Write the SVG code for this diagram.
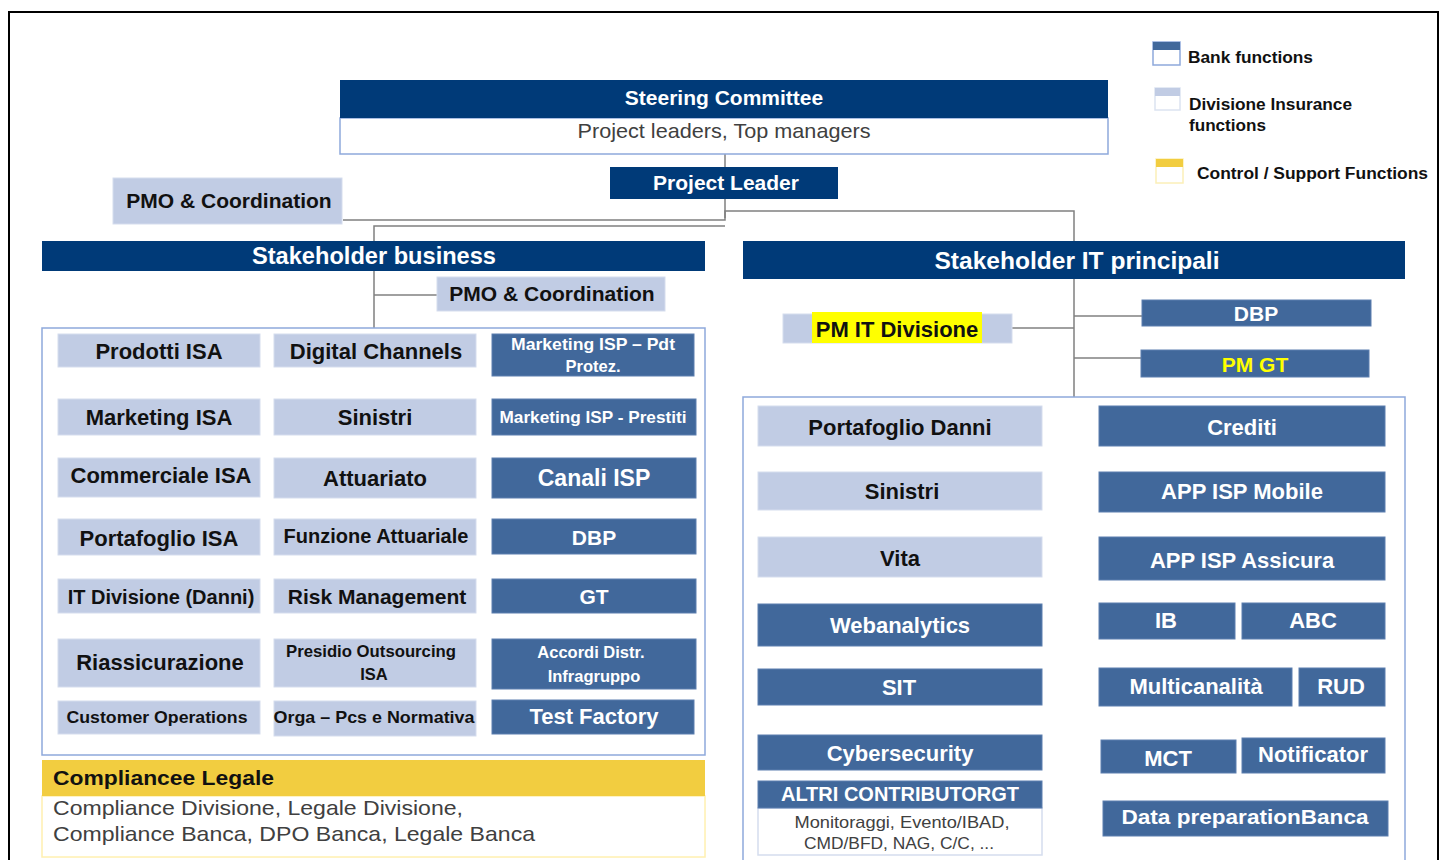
<svg xmlns="http://www.w3.org/2000/svg" width="1445" height="860" viewBox="0 0 1445 860">
  <style>
    text { font-family: "Liberation Sans", Arial, sans-serif; }
    .navy { fill: #003A78; }
    .bank { fill: #41689B; stroke: #5C7FAF; stroke-width: 1; }
    .ins { fill: #C1CCE4; stroke: #D5DDEE; stroke-width: 1; }
    .frame { fill: #FFFFFF; stroke: #8EA9DB; stroke-width: 1.5; }
    .wt { fill: #FFFFFF; font-weight: bold; text-anchor: middle; }
    .bk { fill: #111111; font-weight: bold; text-anchor: middle; }
    .gr { fill: #404040; }
    .conn { fill: none; stroke: #808080; stroke-width: 1.5; }
    .leg { fill: #111111; font-weight: bold; font-size: 16px; }
  </style>

  <!-- outer frame -->
  <rect x="9" y="12" width="1429" height="870" fill="#FFFFFF" stroke="#000000" stroke-width="2"/>

  <!-- connectors -->
  <g id="connectors">
    <path class="conn" d="M725 154 V167"/>
    <path class="conn" d="M343 220 H725 V199"/>
    <path class="conn" d="M374 328 V226 H725"/>
    <path class="conn" d="M374 295 H437"/>
    <path class="conn" d="M725 218 V211 H1074 V397"/>
    <path class="conn" d="M1012 328 H1074"/>
    <path class="conn" d="M1074 316 H1142"/>
    <path class="conn" d="M1074 358 H1141"/>
  </g>

  <!-- legend -->
  <g id="legend">
    <rect x="1153" y="42" width="27" height="23" fill="#FFFFFF" stroke="#8EA9DB" stroke-width="1.5"/>
    <rect x="1153" y="42" width="27" height="8" fill="#41689B"/>
    <text class="leg" x="1188" y="63" textLength="125" lengthAdjust="spacingAndGlyphs">Bank functions</text>
    <rect x="1155" y="88" width="25" height="22" fill="#FFFFFF" stroke="#DCE3F1" stroke-width="1.5"/>
    <rect x="1155" y="88" width="25" height="8" fill="#C1CCE4"/>
    <text class="leg" x="1189" y="110" textLength="163" lengthAdjust="spacingAndGlyphs">Divisione Insurance</text>
    <text class="leg" x="1189" y="131" textLength="77" lengthAdjust="spacingAndGlyphs">functions</text>
    <rect x="1156" y="159" width="27" height="24" fill="#FFFFFF" stroke="#FBEFB8" stroke-width="1.5"/>
    <rect x="1156" y="159" width="27" height="8" fill="#F2CD40"/>
    <text class="leg" x="1197" y="179" textLength="231" lengthAdjust="spacingAndGlyphs">Control / Support Functions</text>
  </g>

  <!-- top level -->
  <g id="steering-committee">
    <rect x="340" y="118" width="768" height="36" fill="#FFFFFF" stroke="#8EA9DB" stroke-width="1.5"/>
    <rect x="340" y="80" width="768" height="38" class="navy"/>
    <text class="wt" x="724" y="105" font-size="21">Steering Committee</text>
    <text class="gr" x="724" y="138" font-size="21" text-anchor="middle" textLength="293" lengthAdjust="spacingAndGlyphs">Project leaders, Top managers</text>
  </g>
  <g id="project-leader">
    <rect x="610" y="167" width="228" height="32" class="navy"/>
    <text class="wt" x="726" y="190" font-size="21">Project Leader</text>
  </g>
  <g id="pmo-top">
    <rect x="113" y="178" width="229" height="46" class="ins"/>
    <text class="bk" x="229" y="208" font-size="21">PMO &amp; Coordination</text>
  </g>

  <!-- business side -->
  <g id="stakeholder-business">
    <rect x="42" y="241" width="663" height="30" class="navy"/>
    <text class="wt" x="374" y="264" font-size="23" textLength="244" lengthAdjust="spacingAndGlyphs">Stakeholder business</text>
  </g>
  <g id="pmo-business">
    <rect x="437" y="277" width="228" height="34" class="ins"/>
    <text class="bk" x="552" y="301" font-size="21">PMO &amp; Coordination</text>
  </g>

  <g id="business-box">
    <rect x="42" y="328" width="663" height="427" class="frame"/>
  </g>

  <g id="prodotti-isa"><rect x="58" y="334" width="202" height="33" class="ins"/><text class="bk" x="159" y="359" font-size="22">Prodotti ISA</text></g>
  <g id="digital-channels"><rect x="274" y="334" width="202" height="33" class="ins"/><text class="bk" x="376" y="359" font-size="22">Digital Channels</text></g>
  <g id="marketing-isp-pdt"><rect x="492" y="334" width="202" height="42" class="bank"/><text class="wt" x="593" y="350" font-size="16.5" textLength="164" lengthAdjust="spacingAndGlyphs">Marketing ISP – Pdt</text><text class="wt" x="593" y="372" font-size="16.5">Protez.</text></g>

  <g id="marketing-isa"><rect x="58" y="399" width="202" height="36" class="ins"/><text class="bk" x="159" y="425" font-size="22">Marketing ISA</text></g>
  <g id="sinistri-b"><rect x="274" y="399" width="202" height="36" class="ins"/><text class="bk" x="375" y="425" font-size="22">Sinistri</text></g>
  <g id="marketing-isp-prestiti"><rect x="492" y="399" width="204" height="36" class="bank"/><text class="wt" x="593" y="423" font-size="16.5" textLength="187" lengthAdjust="spacingAndGlyphs">Marketing ISP - Prestiti</text></g>

  <g id="commerciale-isa"><rect x="58" y="458" width="202" height="39" class="ins"/><text class="bk" x="161" y="483" font-size="22">Commerciale ISA</text></g>
  <g id="attuariato"><rect x="274" y="458" width="202" height="40" class="ins"/><text class="bk" x="375" y="486" font-size="22">Attuariato</text></g>
  <g id="canali-isp"><rect x="492" y="458" width="204" height="40" class="bank"/><text class="wt" x="594" y="486" font-size="23">Canali ISP</text></g>

  <g id="portafoglio-isa"><rect x="58" y="519" width="202" height="36" class="ins"/><text class="bk" x="159" y="546" font-size="22">Portafoglio ISA</text></g>
  <g id="funzione-attuariale"><rect x="274" y="519" width="202" height="36" class="ins"/><text class="bk" x="376" y="543" font-size="20">Funzione Attuariale</text></g>
  <g id="dbp-b"><rect x="492" y="519" width="204" height="35" class="bank"/><text class="wt" x="594" y="545" font-size="21">DBP</text></g>

  <g id="it-divisione"><rect x="58" y="579" width="202" height="34" class="ins"/><text class="bk" x="161" y="604" font-size="20">IT Divisione (Danni)</text></g>
  <g id="risk-management"><rect x="274" y="579" width="202" height="34" class="ins"/><text class="bk" x="377" y="604" font-size="21">Risk Management</text></g>
  <g id="gt-b"><rect x="492" y="579" width="204" height="34" class="bank"/><text class="wt" x="594" y="604" font-size="21">GT</text></g>

  <g id="riassicurazione"><rect x="58" y="639" width="202" height="48" class="ins"/><text class="bk" x="160" y="670" font-size="22">Riassicurazione</text></g>
  <g id="presidio-outsourcing"><rect x="274" y="639" width="202" height="48" class="ins"/><text class="bk" x="371" y="657" font-size="16.5" textLength="170" lengthAdjust="spacingAndGlyphs">Presidio Outsourcing</text><text class="bk" x="374" y="680" font-size="16.5">ISA</text></g>
  <g id="accordi-distr"><rect x="492" y="639" width="204" height="50" class="bank"/><text class="wt" x="591" y="658" font-size="16.5">Accordi Distr.</text><text class="wt" x="594" y="682" font-size="16.5">Infragruppo</text></g>

  <g id="customer-operations"><rect x="58" y="701" width="202" height="33" class="ins"/><text class="bk" x="157" y="723" font-size="17" textLength="181" lengthAdjust="spacingAndGlyphs">Customer Operations</text></g>
  <g id="orga-pcs"><rect x="274" y="701" width="202" height="35" class="ins"/><text class="bk" x="374" y="723" font-size="17" textLength="201" lengthAdjust="spacingAndGlyphs">Orga – Pcs e Normativa</text></g>
  <g id="test-factory"><rect x="492" y="700" width="202" height="34" class="bank"/><text class="wt" x="594" y="724" font-size="22">Test Factory</text></g>

  <g id="compliance-legale">
    <rect x="42" y="796" width="663" height="61" fill="#FFFFFF" stroke="#FFF0B0" stroke-width="1.5"/>
    <rect x="42" y="760" width="663" height="36" fill="#F2CD40"/>
    <text x="53" y="785" font-size="21" font-weight="bold" fill="#111111" textLength="221" lengthAdjust="spacingAndGlyphs">Compliancee Legale</text>
    <text class="gr" x="53" y="815" font-size="21" textLength="410" lengthAdjust="spacingAndGlyphs">Compliance Divisione, Legale Divisione,</text>
    <text class="gr" x="53" y="841" font-size="21" textLength="482" lengthAdjust="spacingAndGlyphs">Compliance Banca, DPO Banca, Legale Banca</text>
  </g>

  <!-- IT side -->
  <g id="stakeholder-it">
    <rect x="743" y="241" width="662" height="38" class="navy"/>
    <text class="wt" x="1077" y="269" font-size="23" textLength="285" lengthAdjust="spacingAndGlyphs">Stakeholder IT principali</text>
  </g>
  <g id="pm-it-divisione">
    <rect x="783" y="314" width="229" height="29" class="ins"/>
    <rect x="812" y="312" width="170" height="31" fill="#FFFF00"/>
    <text class="bk" x="897" y="337" font-size="22">PM IT Divisione</text>
  </g>
  <g id="dbp-it"><rect x="1142" y="300" width="229" height="26" class="bank"/><text class="wt" x="1256" y="321" font-size="21">DBP</text></g>
  <g id="pm-gt"><rect x="1141" y="350" width="228" height="27" class="bank"/><text x="1255" y="372" font-size="21" font-weight="bold" fill="#FFFF00" text-anchor="middle">PM GT</text></g>

  <g id="it-box">
    <rect x="743" y="397" width="662" height="480" class="frame"/>
  </g>

  <g id="portafoglio-danni"><rect x="758" y="406" width="284" height="40" class="ins"/><text class="bk" x="900" y="435" font-size="22">Portafoglio Danni</text></g>
  <g id="sinistri-it"><rect x="758" y="472" width="284" height="38" class="ins"/><text class="bk" x="902" y="499" font-size="22">Sinistri</text></g>
  <g id="vita"><rect x="758" y="537" width="284" height="40" class="ins"/><text class="bk" x="900" y="566" font-size="22">Vita</text></g>
  <g id="webanalytics"><rect x="758" y="604" width="284" height="42" class="bank"/><text class="wt" x="900" y="633" font-size="22">Webanalytics</text></g>
  <g id="sit"><rect x="758" y="669" width="284" height="36" class="bank"/><text class="wt" x="899" y="695" font-size="22">SIT</text></g>
  <g id="cybersecurity"><rect x="758" y="735" width="284" height="35" class="bank"/><text class="wt" x="900" y="761" font-size="22">Cybersecurity</text></g>
  <g id="altri-contributor">
    <rect x="758" y="808" width="284" height="47" fill="#FFFFFF" stroke="#D5DDEE" stroke-width="1.5"/>
    <rect x="758" y="781" width="284" height="27" class="bank"/>
    <text class="wt" x="900" y="801" font-size="20">ALTRI CONTRIBUTORGT</text>
    <text class="gr" x="902" y="828" font-size="17" text-anchor="middle" textLength="215" lengthAdjust="spacingAndGlyphs">Monitoraggi, Evento/IBAD,</text>
    <text class="gr" x="899" y="849" font-size="17" text-anchor="middle" textLength="190" lengthAdjust="spacingAndGlyphs">CMD/BFD, NAG, C/C, ...</text>
  </g>

  <g id="crediti"><rect x="1099" y="406" width="286" height="40" class="bank"/><text class="wt" x="1242" y="435" font-size="22">Crediti</text></g>
  <g id="app-isp-mobile"><rect x="1099" y="472" width="286" height="40" class="bank"/><text class="wt" x="1242" y="499" font-size="22">APP ISP Mobile</text></g>
  <g id="app-isp-assicura"><rect x="1099" y="537" width="286" height="43" class="bank"/><text class="wt" x="1242" y="568" font-size="22">APP ISP Assicura</text></g>
  <g id="ib"><rect x="1099" y="603" width="136" height="36" class="bank"/><text class="wt" x="1166" y="628" font-size="22">IB</text></g>
  <g id="abc"><rect x="1242" y="603" width="143" height="36" class="bank"/><text class="wt" x="1313" y="628" font-size="22">ABC</text></g>
  <g id="multicanalita"><rect x="1099" y="668" width="193" height="38" class="bank"/><text class="wt" x="1196" y="694" font-size="22">Multicanalità</text></g>
  <g id="rud"><rect x="1299" y="668" width="86" height="38" class="bank"/><text class="wt" x="1341" y="694" font-size="22">RUD</text></g>
  <g id="mct"><rect x="1101" y="740" width="135" height="33" class="bank"/><text class="wt" x="1168" y="766" font-size="22">MCT</text></g>
  <g id="notificator"><rect x="1242" y="738" width="143" height="35" class="bank"/><text class="wt" x="1313" y="762" font-size="22">Notificator</text></g>
  <g id="data-preparation"><rect x="1103" y="801" width="285" height="35" class="bank"/><text class="wt" x="1245" y="824" font-size="21" textLength="247" lengthAdjust="spacingAndGlyphs">Data preparationBanca</text></g>
</svg>
